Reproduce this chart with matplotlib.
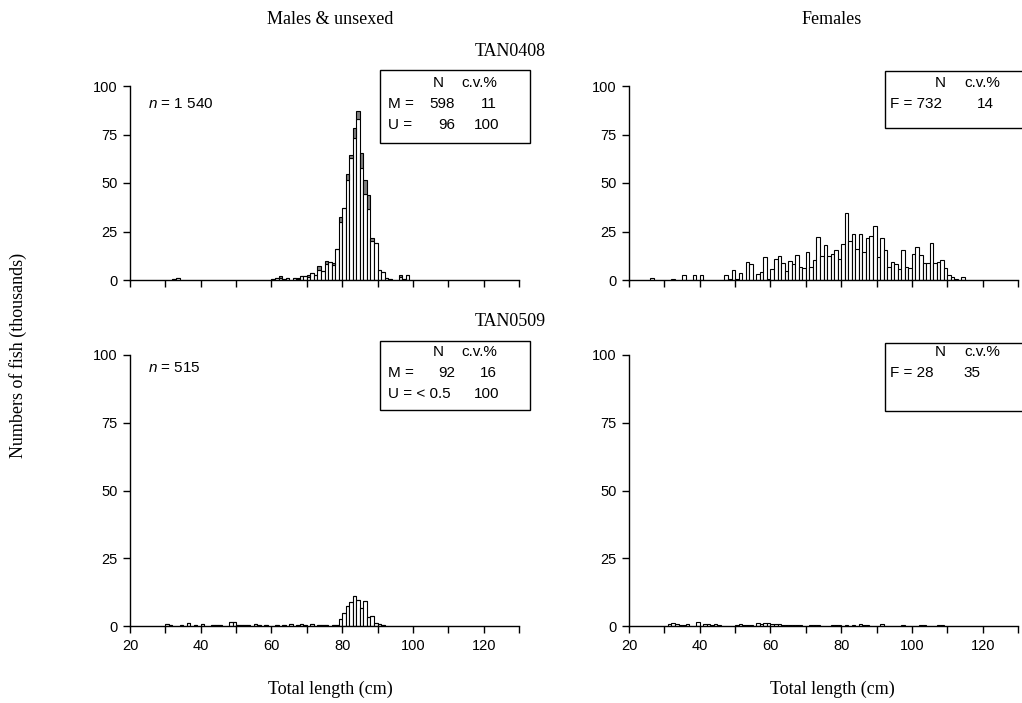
import matplotlib
matplotlib.use("Agg")
import matplotlib.pyplot as plt
from matplotlib.patches import Rectangle
from matplotlib.ticker import MultipleLocator

plt.rcParams['font.family'] = ['Liberation Sans', 'DejaVu Sans']
plt.rcParams['mathtext.fontset'] = 'custom'
plt.rcParams['mathtext.it'] = 'Liberation Sans:italic'
plt.rcParams['mathtext.rm'] = 'Liberation Sans'

# ---------------- data (thousands of fish per 1 cm length class) ----------------
# TAN0408 males (M) and unsexed (U)
tl_len = [32, 33, 60, 61, 62, 63, 64, 66, 67, 68, 69, 70, 71, 72, 73, 74, 75, 76, 77, 78,
          79, 80, 81, 82, 83, 84, 85, 86, 87, 88, 89, 90, 91, 92, 93, 96, 97, 98]
tl_M = [0.5, 0.8, 0.3, 0.9, 1.2, 0.3, 0.8, 1.2, 0.7, 2.0, 2.0, 1.6, 3.5, 2.6, 5.0, 4.5, 8.5, 9.5, 7.5, 16.0,
        29.7, 37.0, 51.4, 63.0, 73.4, 83.0, 57.8, 44.5, 36.6, 19.9, 19.0, 5.2, 4.3, 1.2, 0.5, 1.5, 0.5, 2.5]
tl_U = [0, 0, 0, 0, 1.0, 0, 0, 0, 0.5, 0, 0, 1.0, 0, 0, 2.0, 0, 1.5, 0, 1.5, 0,
        2.8, 0, 3.0, 1.2, 5.2, 4.0, 7.8, 7.3, 7.4, 1.7, 0, 0, 0, 0, 0, 1.0, 0, 0]

# TAN0408 females
tr_len = [26, 32, 35, 38, 40, 47, 48, 49, 50, 51, 53, 54, 56, 57, 58, 59, 60, 61, 62, 63,
          64, 65, 66, 67, 68, 69, 70, 71, 72, 73, 74, 75, 76, 77, 78, 79, 80, 81, 82, 83,
          84, 85, 86, 87, 88, 89, 90, 91, 92, 93, 94, 95, 96, 97, 98, 99, 100, 101, 102, 103,
          104, 105, 106, 107, 108, 109, 110, 111, 112, 114]
tr_F = [1.2, 0.5, 2.8, 2.4, 2.4, 2.6, 0.5, 5.0, 0.5, 3.5, 9.3, 8.1, 3.3, 4.1, 12.0, 0.5, 5.5, 11.0, 12.4, 8.6,
        4.7, 9.8, 8.5, 12.8, 6.7, 6.2, 14.2, 6.7, 10.2, 22.3, 12.4, 18.0, 12.4, 13.3, 15.4, 10.7, 18.5, 34.5, 19.9, 23.7,
        15.9, 23.8, 14.5, 21.9, 22.8, 28.0, 11.9, 21.4, 15.4, 6.7, 9.3, 8.1, 5.5, 15.4, 6.7, 6.2, 13.3, 17.1, 12.8, 9.0,
        9.0, 19.3, 9.0, 9.3, 10.4, 6.4, 2.6, 1.6, 0.7, 1.6]

# TAN0509 males (M) and unsexed (U)
bl_len = [30, 31, 34, 36, 38, 40, 43, 44, 45, 48, 49, 50, 51, 52, 53, 55, 56, 58, 61, 63,
          65, 67, 68, 69, 71, 73, 74, 75, 77, 78, 79, 80, 81, 82, 83, 84, 85, 86, 87, 88,
          89, 90, 91]
bl_M = [0.6, 0.4, 0.5, 1.0, 0.3, 0.6, 0.5, 0.5, 0.5, 1.5, 1.5, 0.4, 0.4, 0.4, 0.4, 0.6, 0.4, 0.3, 0.4, 0.3,
        0.6, 0.4, 0.7, 0.4, 0.9, 0.4, 0.5, 0.5, 0.4, 0.5, 2.5, 4.9, 7.4, 9.0, 11.0, 9.6, 6.5, 9.3, 3.4, 3.7,
        1.2, 0.6, 0.3]
bl_U = [0] * 36 + [0.3] + [0] * 6

# TAN0509 females
br_len = [31, 32, 33, 34, 35, 36, 39, 41, 42, 43, 44, 45, 50, 51, 52, 53, 54, 56, 57, 58,
          59, 60, 61, 62, 63, 64, 65, 66, 67, 68, 71, 72, 73, 77, 78, 79, 81, 83, 85, 86,
          87, 91, 97, 102, 103, 107, 108]
br_F = [0.6, 1.2, 0.6, 0.5, 0.5, 0.6, 1.4, 0.7, 0.6, 0.4, 0.7, 0.4, 0.4, 0.7, 0.5, 0.5, 0.5, 1.0, 0.6, 1.1,
        1.0, 0.7, 0.6, 0.6, 0.5, 0.5, 0.5, 0.4, 0.4, 0.3, 0.5, 0.4, 0.3, 0.4, 0.5, 0.3, 0.3, 0.4, 0.9, 0.4,
        0.3, 0.7, 0.3, 0.3, 0.3, 0.5, 0.3]

x_ticks_major = [20, 40, 60, 80, 100, 120]
y_ticks = [0, 25, 50, 75, 100]

# ---------------- figure ----------------
W, H = 1022, 703
fig = plt.figure(figsize=(W / 100, H / 100), dpi=100)

def fx(px):
    return px / W

def fy(py):
    return 1 - py / H

def make_ax(left, right, top, bottom, labels):
    ax = fig.add_axes([fx(left), fy(bottom), fx(right) - fx(left), fy(top) - fy(bottom)])
    ax.set_xlim(20, 130)
    ax.set_ylim(0, 100)
    for s in ['top', 'right']:
        ax.spines[s].set_visible(False)
    for s in ['left', 'bottom']:
        ax.spines[s].set_linewidth(1.0)
    ax.xaxis.set_minor_locator(MultipleLocator(10))
    ax.set_xticks(x_ticks_major)
    ax.set_yticks(y_ticks)
    ax.tick_params(axis='both', which='both', direction='out', length=5, width=1.0,
                   labelsize=10.5, pad=4)
    if not labels:
        ax.tick_params(axis='x', labelbottom=False)
    return ax

edge = dict(edgecolor='black', linewidth=0.8, align='edge', width=1.0)

ax1 = make_ax(130, 519, 86, 280, False)
ax1.bar(tl_len, tl_M, color='white', **edge)
ax1.bar(tl_len, tl_U, bottom=tl_M, color='#808080', **edge)

ax2 = make_ax(629, 1018, 86, 280, False)
ax2.bar(tr_len, tr_F, color='white', **edge)

ax3 = make_ax(130, 519, 355, 626, True)
ax3.bar(bl_len, bl_M, color='white', **edge)
ax3.bar(bl_len, bl_U, bottom=bl_M, color='#808080', **edge)

ax4 = make_ax(629, 1018, 355, 626, True)
ax4.bar(br_len, br_F, color='white', **edge)

# ---------------- serif labels ----------------
serif = ['Liberation Serif', 'DejaVu Serif']
fs_serif = 13
fig.text(fx(330), fy(20), 'Males & unsexed', family=serif, fontsize=fs_serif, ha='center', va='center')
fig.text(fx(832), fy(20), 'Females', family=serif, fontsize=fs_serif, ha='center', va='center')
fig.text(fx(510), fy(52), 'TAN0408', family=serif, fontsize=fs_serif, ha='center', va='center')
fig.text(fx(510), fy(322), 'TAN0509', family=serif, fontsize=fs_serif, ha='center', va='center')
fig.text(fx(18), fy(355), 'Numbers of fish (thousands)', family=serif, fontsize=fs_serif,
         ha='center', va='center', rotation=90)
fig.text(fx(330), fy(689), 'Total length (cm)', family=serif, fontsize=fs_serif, ha='center', va='center')
fig.text(fx(832), fy(689), 'Total length (cm)', family=serif, fontsize=fs_serif, ha='center', va='center')

# n labels
fs = 11
fig.text(fx(148), fy(104), r'$n$ = 1 540', fontsize=fs, ha='left', va='center')
fig.text(fx(148), fy(368), r'$n$ = 515', fontsize=fs, ha='left', va='center')

# ---------------- boxes ----------------
def box(x0, y0, x1, y1):
    r = Rectangle((fx(x0), fy(y1)), fx(x1) - fx(x0), fy(y0) - fy(y1), transform=fig.transFigure,
                  facecolor='white', edgecolor='black', linewidth=1.0, clip_on=False)
    fig.add_artist(r)

def t(px, py, s, ha):
    fig.text(fx(px), fy(py), s, fontsize=fs, ha=ha, va='center')

# TAN0408 males
box(380, 70, 530, 143)
t(438, 83, 'N', 'center'); t(479, 83, 'c.v.%', 'center')
t(388, 104, 'M =', 'left'); t(455, 104, '598', 'right'); t(497, 104, '11', 'right')
t(388, 125, 'U =', 'left'); t(455, 125, '96', 'right'); t(499, 125, '100', 'right')

# TAN0408 females
box(885, 71, 1040, 128)
t(940, 83, 'N', 'center'); t(982, 83, 'c.v.%', 'center')
t(890, 104, 'F = 732', 'left'); t(994, 104, '14', 'right')

# TAN0509 males
box(380, 341, 530, 410)
t(438, 352, 'N', 'center'); t(479, 352, 'c.v.%', 'center')
t(388, 373, 'M =', 'left'); t(455, 373, '92', 'right'); t(497, 373, '16', 'right')
t(388, 394, 'U = < 0.5', 'left'); t(499, 394, '100', 'right')

# TAN0509 females
box(885, 343, 1040, 411)
t(940, 352, 'N', 'center'); t(982, 352, 'c.v.%', 'center')
t(890, 373, 'F = 28', 'left'); t(980, 373, '35', 'right')

fig.savefig('out.png', dpi=100)
